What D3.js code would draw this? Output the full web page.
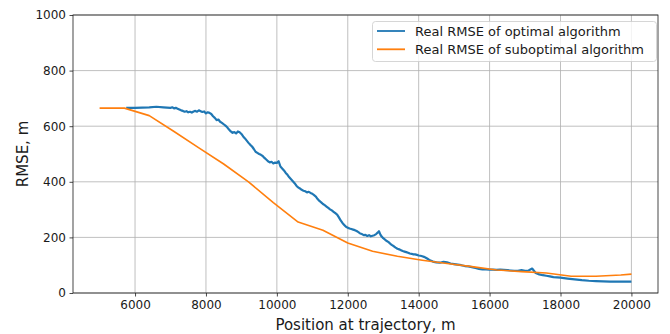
<!DOCTYPE html>
<html><head><meta charset="utf-8">
<script src="https://cdn.jsdelivr.net/npm/d3@7"></script>
<style>body{margin:0;background:#fff}svg{display:block}text{font-family:"DejaVu Sans",sans-serif}</style>
</head><body><svg id="c" width="670" height="334"></svg>
<script>
const xTicks = [6000, 8000, 10000, 12000, 14000, 16000, 18000, 20000];
const yTicks = [0, 200, 400, 600, 800, 1000];
const seriesNames = ["Real RMSE of optimal algorithm", "Real RMSE of suboptimal algorithm"];

const optimalX = [5750,6000,6200,6400,6600,6800,7000,7050,7100,7150,7200,7250,7300,7350,7400,7450,7500,7550,7600,7650,7700,7750,7800,7850,7900,7950,8000,8050,8100,8150,8200,8250,8300,8350,8400,8450,8500,8550,8600,8650,8700,8750,8800,8850,8900,8950,9000,9050,9100,9150,9200,9250,9300,9350,9400,9450,9500,9550,9600,9650,9700,9750,9800,9850,9900,9950,10000,10050,10100,10150,10200,10250,10300,10350,10400,10450,10500,10550,10600,10650,10700,10750,10800,10850,10900,10950,11000,11050,11100,11150,11200,11250,11300,11350,11400,11450,11500,11550,11600,11650,11700,11750,11800,11850,11900,11950,12000,12050,12100,12150,12200,12250,12300,12350,12400,12450,12500,12550,12600,12650,12700,12750,12800,12850,12880,12920,12950,13000,13050,13100,13150,13200,13250,13300,13350,13400,13450,13500,13550,13600,13650,13700,13750,13800,13850,13900,13950,14000,14050,14100,14150,14200,14250,14300,14350,14400,14500,14600,14700,14800,14900,15000,15100,15200,15300,15400,15500,15600,15700,15800,15900,16000,16100,16200,16300,16400,16500,16600,16700,16800,16900,17000,17100,17200,17250,17300,17400,17500,17600,17700,17800,17900,18000,18200,18400,18600,18800,19000,19200,19400,19600,19800,20000];
const optimalY = [666,666,667,668,670,668,666,668,664,666,663,660,657,655,652,654,650,652,649,653,655,652,657,654,651,653,646,650,648,644,636,630,622,624,616,612,607,602,596,588,581,576,579,574,581,578,572,563,556,548,540,533,527,518,508,504,500,497,493,486,480,474,470,472,466,469,468,474,455,448,441,432,425,416,409,402,395,386,380,376,371,368,366,362,364,360,357,352,347,338,331,326,320,316,311,306,301,297,292,287,282,272,261,252,245,238,235,232,230,228,226,223,219,214,212,208,209,205,208,204,206,208,212,218,222,210,204,197,192,187,183,177,172,168,163,159,157,154,151,149,147,145,142,141,139,139,137,135,134,132,130,127,123,119,116,113,110,109,112,110,106,104,102,100,97,96,93,90,87,85,85,84,84,83,84,83,82,81,80,80,82,80,81,88,80,72,67,64,62,60,57,56,55,52,49,46,44,43,42,41,41,41,41];

const suboptX = [5000,5700,6400,7100,7800,8500,9200,9900,10600,11300,12000,12700,13400,14100,14800,15500,16200,16900,17600,18300,19000,19700,20000];
const suboptY = [665,665,638,581,522,464,400,325,255,226,180,150,132,118,106,95,83,77,72,60,60,65,68];

const svg = d3.select("#c");
const m = {l:73, r:658, t:15, b:293};
const x = d3.scaleLinear().domain([4250, 20750]).range([m.l, m.r]);
const y = d3.scaleLinear().domain([0, 1000]).range([m.b, m.t]);

// grid
const g = svg.append("g");
g.selectAll(".gx").data(xTicks).join("line")
  .attr("x1", d=>x(d)).attr("x2", d=>x(d)).attr("y1", m.t).attr("y2", m.b)
  .attr("stroke", "#b0b0b0").attr("stroke-width", 0.8);
g.selectAll(".gy").data(yTicks).join("line")
  .attr("y1", d=>y(d)).attr("y2", d=>y(d)).attr("x1", m.l).attr("x2", m.r)
  .attr("stroke", "#b0b0b0").attr("stroke-width", 0.8);

const line = d3.line().x(d=>x(d[0])).y(d=>y(d[1]));
svg.append("path").datum(optimalX.map((v,i)=>[v, optimalY[i]]))
  .attr("d", line).attr("fill","none").attr("stroke","#1f77b4").attr("stroke-width",2.2).attr("stroke-linejoin","round");
svg.append("path").datum(suboptX.map((v,i)=>[v, suboptY[i]]))
  .attr("d", line).attr("fill","none").attr("stroke","#ff7f0e").attr("stroke-width",1.6).attr("stroke-linejoin","round");

// axes
const xa = svg.append("g").attr("transform", `translate(0,${m.b})`)
  .call(d3.axisBottom(x).tickValues(xTicks).tickFormat(d3.format("d")).tickSize(3.5).tickPadding(3.5));
const ya = svg.append("g").attr("transform", `translate(${m.l},0)`)
  .call(d3.axisLeft(y).tickValues(yTicks).tickFormat(d3.format("d")).tickSize(3.5).tickPadding(3.5));
[xa, ya].forEach(a => {
  a.select(".domain").remove();
  a.selectAll("text").attr("font-size", 12).attr("fill", "#1a1a1a").attr("font-family", "DejaVu Sans");
  a.selectAll("line").attr("stroke", "#1a1a1a").attr("stroke-width", 0.8);
});
svg.append("rect").attr("x", m.l).attr("y", m.t).attr("width", m.r-m.l).attr("height", m.b-m.t)
  .attr("fill","none").attr("stroke","#1a1a1a").attr("stroke-width",0.8);

svg.append("text").attr("x", (m.l+m.r)/2).attr("y", 330).attr("text-anchor","middle")
  .attr("font-size", 15).attr("fill","#1a1a1a").text("Position at trajectory, m");
svg.append("text").attr("transform", `translate(28,${(m.t+m.b)/2}) rotate(-90)`).attr("text-anchor","middle")
  .attr("font-size", 15).attr("fill","#1a1a1a").text("RMSE, m");

// legend
const lg = svg.append("g");
lg.append("rect").attr("x", 372.5).attr("y", 21.5).attr("width", 284).attr("height", 40).attr("rx", 3)
  .attr("fill", "rgba(255,255,255,0.8)").attr("stroke", "#cccccc").attr("stroke-width", 0.8);
const colors = ["#1f77b4", "#ff7f0e"];
seriesNames.forEach((n, i) => {
  const yy = 31 + i*18.3;
  lg.append("line").attr("x1", 377).attr("x2", 405).attr("y1", yy).attr("y2", yy)
    .attr("stroke", colors[i]).attr("stroke-width", 1.8);
  lg.append("text").attr("x", 415).attr("y", yy).attr("dy", "0.35em").attr("font-size", 13)
    .attr("fill", "#1a1a1a").text(n);
});
</script></body></html>
